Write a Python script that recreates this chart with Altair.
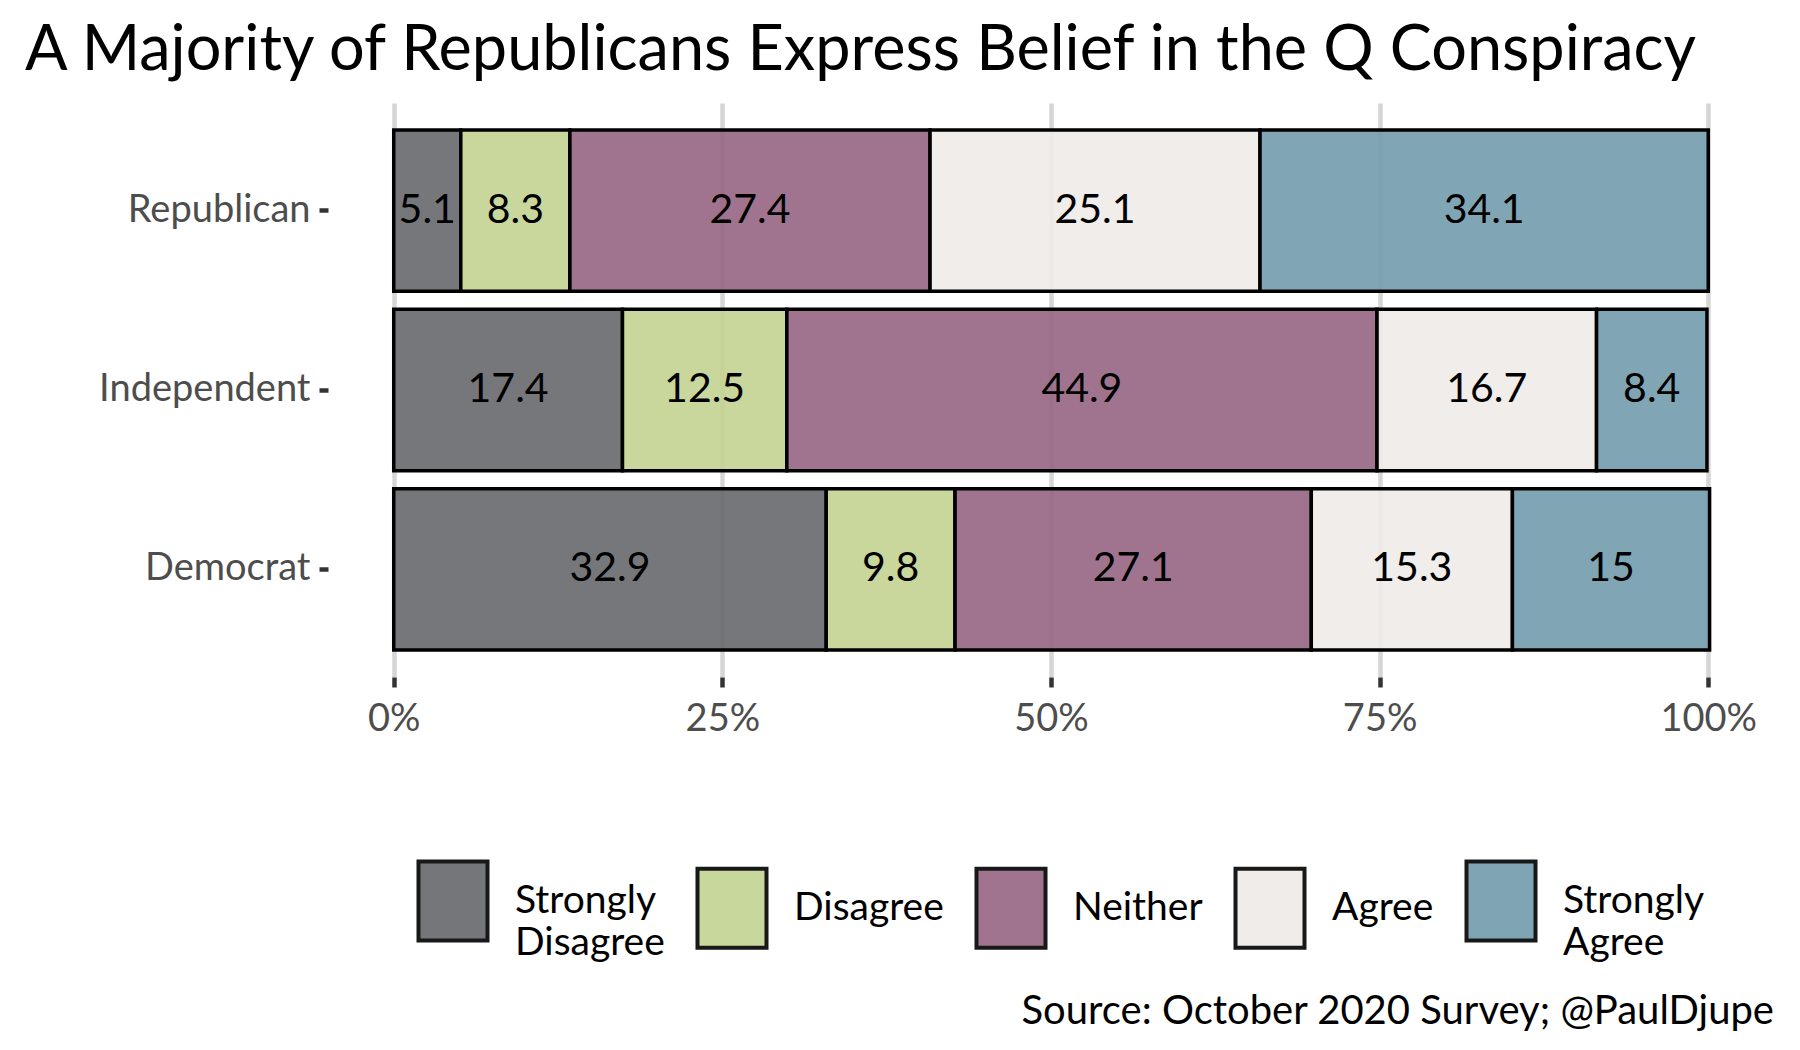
import altair as alt
import pandas as pd

parties = ["Republican", "Independent", "Democrat"]
responses = ["Strongly Disagree", "Disagree", "Neither", "Agree", "Strongly Agree"]
republican = [5.1, 8.3, 27.4, 25.1, 34.1]
independent = [17.4, 12.5, 44.9, 16.7, 8.4]
democrat = [32.9, 9.8, 27.1, 15.3, 15]
colors = ["#67686c", "#c3d391", "#966583", "#eeebe8", "#729cae"]
grid_ticks = [0, 25, 50, 75, 100]
title_text = "A Majority of Republicans Express Belief in the Q Conspiracy"
caption_text = "Source: October 2020 Survey; @PaulDjupe"

rows = []
for party, vals in zip(parties, [republican, independent, democrat]):
    for i, (resp, v) in enumerate(zip(responses, vals)):
        rows.append({"party": party, "response": resp, "order": i,
                     "value": float(v), "label": f"{v:g}"})
df = pd.DataFrame(rows)

W, H = 1446, 574
FONT = "Lato"

xscale = alt.Scale(domain=[-5, 105], nice=False, zero=False)
yscale = alt.Scale(domain=parties, paddingInner=0.1, paddingOuter=0.15)

base = alt.Chart(df).transform_stack(
    stack="value", groupby=["party"], as_=["x0", "x1"],
    sort=[alt.SortField("order", order="ascending")]
).transform_calculate(xm="(datum.x0 + datum.x1) / 2")

bars = base.mark_bar(stroke="black", strokeWidth=3.5, fillOpacity=0.9).encode(
    x=alt.X("x0:Q", scale=xscale, title=None,
            axis=alt.Axis(values=grid_ticks, labelExpr="datum.value + '%'",
                          domain=False, ticks=True, tickSize=10, tickWidth=4.5,
                          tickColor="#333333", grid=True,
                          gridColor="#d6d6d6", gridWidth=4.5,
                          labelFont=FONT, labelFontSize=38, labelColor="#4d4d4d",
                          labelPadding=13, labelFlush=False)),
    x2="x1:Q",
    y=alt.Y("party:N", scale=yscale, sort=parties, title=None,
            axis=alt.Axis(domain=False, ticks=True, tickSize=9, tickWidth=4.5,
                          tickColor="#333333", grid=False, labelLimit=500,
                          labelFont=FONT, labelFontSize=38, labelColor="#4d4d4d",
                          labelPadding=9)),
    color=alt.Color("response:N", scale=alt.Scale(domain=responses, range=colors),
                    legend=alt.Legend(title=None, orient="none", legendX=73, legendY=746,
                                      direction="horizontal",
                                      symbolType="M-0.69,-0.79H0.69V0.79H-0.69Z",
                                      symbolSize=10000, symbolStrokeColor="black",
                                      symbolStrokeWidth=4, symbolOpacity=0.9,
                                      labelFont=FONT, labelFontSize=39, labelColor="black",
                                      labelOffset=10, columnPadding=15, labelLimit=500,
                                      labelExpr="split(datum.label, ' ')")),
    order=alt.Order("order:Q"),
)

texts = base.mark_text(font=FONT, fontSize=41, color="black").encode(
    x=alt.X("xm:Q", scale=xscale),
    y=alt.Y("party:N", scale=yscale, sort=parties),
    text="label:N",
)

caption = alt.Chart(pd.DataFrame({"t": [caption_text]})).mark_text(
    align="right", baseline="alphabetic", font=FONT, fontSize=40, color="black"
).encode(x=alt.value(W), y=alt.value(921), text="t:N")

chart = alt.layer(bars, texts, caption).properties(
    width=W, height=H,
    title=alt.TitleParams(title_text, anchor="start", frame="group", dx=-303,
                          font=FONT, fontSize=63, fontWeight="normal", color="black",
                          baseline="alphabetic", offset=-30),
    autosize=alt.AutoSizeParams(type="none"),
    padding={"left": 320, "top": 95, "right": 5, "bottom": 360},
).configure(
    style={"guide-label": {"lineHeight": 42}}
).configure_view(stroke=None, strokeWidth=0)

chart.save("out.html", embed_options={"renderer": "svg", "actions": False})
